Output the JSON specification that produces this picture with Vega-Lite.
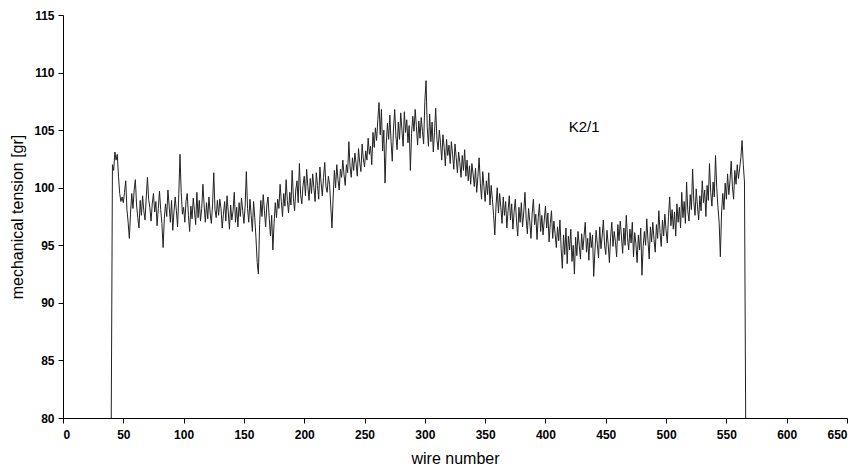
{
  "$schema": "https://vega.github.io/schema/vega-lite/v6.json",
  "autosize": "none",
  "width": 784,
  "height": 403,
  "padding": {"left": 63, "top": 15, "right": 20, "bottom": 52},
  "background": "white",
  "config": {
    "view": {"stroke": null},
    "font": "Liberation Sans",
    "axis": {
      "grid": false,
      "domainColor": "#000",
      "tickColor": "#000",
      "tickSize": 5,
      "labelColor": "#000",
      "labelFont": "Liberation Sans",
      "labelFontSize": 12,
      "labelFontWeight": "bold",
      "titleColor": "#000",
      "titleFont": "Liberation Sans",
      "titleFontSize": 16,
      "titleFontWeight": "normal"
    }
  },
  "datasets": {
    "tension": [
      {"w":40,"t":80},
      {"w":41,"t":102.0},{"w":42,"t":101.5},{"w":43,"t":103.1},{"w":44,"t":102.4},{"w":45,"t":102.9},{"w":46,"t":101.0},{"w":47,"t":99.5},{"w":48,"t":98.8},{"w":49,"t":99.2},{"w":50,"t":98.7},
      {"w":51,"t":99.6},{"w":52,"t":100.6},{"w":53,"t":98.1},{"w":54,"t":97.0},{"w":55,"t":95.6},{"w":56,"t":97.8},{"w":57,"t":99.5},{"w":58,"t":98.2},{"w":59,"t":99.8},{"w":60,"t":100.7},
      {"w":61,"t":98.5},{"w":62,"t":97.4},{"w":63,"t":96.5},{"w":64,"t":98.9},{"w":65,"t":97.6},{"w":66,"t":99.3},{"w":67,"t":98.0},{"w":68,"t":97.2},{"w":69,"t":99.1},{"w":70,"t":100.9},
      {"w":71,"t":99.0},{"w":72,"t":98.3},{"w":73,"t":97.1},{"w":74,"t":98.6},{"w":75,"t":99.5},{"w":76,"t":97.9},{"w":77,"t":98.8},{"w":78,"t":96.7},{"w":79,"t":98.2},{"w":80,"t":99.7},
      {"w":81,"t":98.1},{"w":82,"t":96.9},{"w":83,"t":94.8},{"w":84,"t":97.3},{"w":85,"t":98.6},{"w":86,"t":97.5},{"w":87,"t":99.8},{"w":88,"t":98.4},{"w":89,"t":97.0},{"w":90,"t":98.9},
      {"w":91,"t":96.3},{"w":92,"t":97.9},{"w":93,"t":99.2},{"w":94,"t":98.0},{"w":95,"t":96.6},{"w":96,"t":99.4},{"w":97,"t":102.9},{"w":98,"t":99.6},{"w":99,"t":97.7},{"w":100,"t":98.3},
      {"w":101,"t":97.0},{"w":102,"t":98.8},{"w":103,"t":99.5},{"w":104,"t":97.6},{"w":105,"t":96.2},{"w":106,"t":98.4},{"w":107,"t":97.3},{"w":108,"t":99.1},{"w":109,"t":98.0},{"w":110,"t":96.8},
      {"w":111,"t":99.6},{"w":112,"t":97.4},{"w":113,"t":98.9},{"w":114,"t":97.1},{"w":115,"t":98.2},{"w":116,"t":100.3},{"w":117,"t":98.5},{"w":118,"t":97.0},{"w":119,"t":98.7},{"w":120,"t":97.3},
      {"w":121,"t":99.2},{"w":122,"t":97.8},{"w":123,"t":96.9},{"w":124,"t":98.6},{"w":125,"t":101.3},{"w":126,"t":98.1},{"w":127,"t":97.4},{"w":128,"t":98.9},{"w":129,"t":97.6},{"w":130,"t":99.0},
      {"w":131,"t":98.2},{"w":132,"t":96.5},{"w":133,"t":97.7},{"w":134,"t":98.8},{"w":135,"t":97.1},{"w":136,"t":99.3},{"w":137,"t":97.9},{"w":138,"t":96.4},{"w":139,"t":98.5},{"w":140,"t":97.2},
      {"w":141,"t":98.0},{"w":142,"t":99.6},{"w":143,"t":97.0},{"w":144,"t":98.3},{"w":145,"t":96.6},{"w":146,"t":98.7},{"w":147,"t":97.5},{"w":148,"t":99.1},{"w":149,"t":98.0},{"w":150,"t":96.9},
      {"w":151,"t":98.4},{"w":152,"t":101.4},{"w":153,"t":98.2},{"w":154,"t":97.0},{"w":155,"t":99.0},{"w":156,"t":97.6},{"w":157,"t":96.2},{"w":158,"t":98.8},{"w":159,"t":97.4},{"w":160,"t":95.6},
      {"w":161,"t":93.5},{"w":162,"t":92.5},{"w":163,"t":96.8},{"w":164,"t":98.9},{"w":165,"t":97.5},{"w":166,"t":99.4},{"w":167,"t":98.0},{"w":168,"t":96.6},{"w":169,"t":98.5},{"w":170,"t":99.2},
      {"w":171,"t":97.3},{"w":172,"t":95.8},{"w":173,"t":97.6},{"w":174,"t":94.6},{"w":175,"t":96.9},{"w":176,"t":98.7},{"w":177,"t":97.4},{"w":178,"t":99.0},{"w":179,"t":98.2},{"w":180,"t":100.3},
      {"w":181,"t":98.8},{"w":182,"t":97.5},{"w":183,"t":99.5},{"w":184,"t":98.4},{"w":185,"t":100.7},{"w":186,"t":98.9},{"w":187,"t":97.8},{"w":188,"t":99.6},{"w":189,"t":98.5},{"w":190,"t":101.5},
      {"w":191,"t":99.1},{"w":192,"t":98.0},{"w":193,"t":99.8},{"w":194,"t":100.6},{"w":195,"t":98.7},{"w":196,"t":102.1},{"w":197,"t":99.4},{"w":198,"t":98.6},{"w":199,"t":100.2},{"w":200,"t":101.0},
      {"w":201,"t":99.3},{"w":202,"t":101.6},{"w":203,"t":100.1},{"w":204,"t":98.9},{"w":205,"t":100.8},{"w":206,"t":99.5},{"w":207,"t":101.2},{"w":208,"t":100.0},{"w":209,"t":98.8},{"w":210,"t":101.3},
      {"w":211,"t":100.2},{"w":212,"t":99.0},{"w":213,"t":101.8},{"w":214,"t":100.4},{"w":215,"t":99.3},{"w":216,"t":100.9},{"w":217,"t":102.2},{"w":218,"t":100.1},{"w":219,"t":99.6},{"w":220,"t":101.0},
      {"w":221,"t":100.3},{"w":222,"t":98.4},{"w":223,"t":96.5},{"w":224,"t":99.2},{"w":225,"t":101.5},{"w":226,"t":100.0},{"w":227,"t":102.0},{"w":228,"t":100.7},{"w":229,"t":99.8},{"w":230,"t":101.6},
      {"w":231,"t":100.9},{"w":232,"t":102.4},{"w":233,"t":101.1},{"w":234,"t":100.2},{"w":235,"t":102.0},{"w":236,"t":101.3},{"w":237,"t":104.0},{"w":238,"t":101.8},{"w":239,"t":100.9},{"w":240,"t":102.6},
      {"w":241,"t":101.5},{"w":242,"t":103.0},{"w":243,"t":102.1},{"w":244,"t":101.0},{"w":245,"t":103.4},{"w":246,"t":102.2},{"w":247,"t":101.4},{"w":248,"t":103.8},{"w":249,"t":102.5},{"w":250,"t":101.8},
      {"w":251,"t":103.2},{"w":252,"t":102.4},{"w":253,"t":104.3},{"w":254,"t":102.9},{"w":255,"t":103.6},{"w":256,"t":102.0},{"w":257,"t":104.8},{"w":258,"t":103.5},{"w":259,"t":105.2},{"w":260,"t":104.1},
      {"w":261,"t":105.9},{"w":262,"t":107.4},{"w":263,"t":104.6},{"w":264,"t":106.8},{"w":265,"t":103.2},{"w":266,"t":105.0},{"w":267,"t":100.4},{"w":268,"t":103.8},{"w":269,"t":105.6},{"w":270,"t":104.2},
      {"w":271,"t":106.3},{"w":272,"t":104.0},{"w":273,"t":102.3},{"w":274,"t":105.1},{"w":275,"t":106.8},{"w":276,"t":104.5},{"w":277,"t":103.3},{"w":278,"t":105.7},{"w":279,"t":104.2},{"w":280,"t":106.5},
      {"w":281,"t":105.0},{"w":282,"t":103.6},{"w":283,"t":106.6},{"w":284,"t":104.8},{"w":285,"t":105.9},{"w":286,"t":103.9},{"w":287,"t":105.4},{"w":288,"t":101.5},{"w":289,"t":104.7},{"w":290,"t":106.2},
      {"w":291,"t":104.9},{"w":292,"t":106.8},{"w":293,"t":105.3},{"w":294,"t":103.7},{"w":295,"t":105.8},{"w":296,"t":104.3},{"w":297,"t":106.1},{"w":298,"t":104.9},{"w":299,"t":103.8},{"w":300,"t":107.5},
      {"w":301,"t":109.3},{"w":302,"t":105.2},{"w":303,"t":103.6},{"w":304,"t":106.4},{"w":305,"t":104.0},{"w":306,"t":105.7},{"w":307,"t":103.1},{"w":308,"t":104.8},{"w":309,"t":106.9},{"w":310,"t":104.2},
      {"w":311,"t":103.3},{"w":312,"t":105.0},{"w":313,"t":103.9},{"w":314,"t":102.4},{"w":315,"t":104.6},{"w":316,"t":103.5},{"w":317,"t":101.9},{"w":318,"t":104.2},{"w":319,"t":102.8},{"w":320,"t":103.7},
      {"w":321,"t":102.1},{"w":322,"t":104.0},{"w":323,"t":102.9},{"w":324,"t":101.6},{"w":325,"t":103.8},{"w":326,"t":102.6},{"w":327,"t":101.3},{"w":328,"t":103.1},{"w":329,"t":102.2},{"w":330,"t":100.9},
      {"w":331,"t":102.8},{"w":332,"t":101.5},{"w":333,"t":103.3},{"w":334,"t":101.0},{"w":335,"t":102.4},{"w":336,"t":100.6},{"w":337,"t":101.9},{"w":338,"t":100.3},{"w":339,"t":102.1},{"w":340,"t":101.2},
      {"w":341,"t":100.1},{"w":342,"t":101.7},{"w":343,"t":99.6},{"w":344,"t":101.0},{"w":345,"t":102.6},{"w":346,"t":100.4},{"w":347,"t":99.0},{"w":348,"t":101.4},{"w":349,"t":100.1},{"w":350,"t":98.8},
      {"w":351,"t":100.6},{"w":352,"t":99.4},{"w":353,"t":101.3},{"w":354,"t":98.5},{"w":355,"t":100.2},{"w":356,"t":99.0},{"w":357,"t":97.6},{"w":358,"t":95.9},{"w":359,"t":98.4},{"w":360,"t":100.0},
      {"w":361,"t":97.8},{"w":362,"t":99.5},{"w":363,"t":98.3},{"w":364,"t":96.9},{"w":365,"t":99.2},{"w":366,"t":97.6},{"w":367,"t":98.8},{"w":368,"t":96.5},{"w":369,"t":98.0},{"w":370,"t":99.3},
      {"w":371,"t":97.2},{"w":372,"t":98.6},{"w":373,"t":96.4},{"w":374,"t":97.9},{"w":375,"t":99.0},{"w":376,"t":97.1},{"w":377,"t":95.8},{"w":378,"t":98.3},{"w":379,"t":97.0},{"w":380,"t":98.7},
      {"w":381,"t":96.6},{"w":382,"t":97.9},{"w":383,"t":99.6},{"w":384,"t":97.3},{"w":385,"t":96.0},{"w":386,"t":98.2},{"w":387,"t":97.1},{"w":388,"t":95.6},{"w":389,"t":97.8},{"w":390,"t":99.0},
      {"w":391,"t":96.8},{"w":392,"t":97.7},{"w":393,"t":95.5},{"w":394,"t":97.4},{"w":395,"t":98.6},{"w":396,"t":96.2},{"w":397,"t":97.6},{"w":398,"t":95.9},{"w":399,"t":97.2},{"w":400,"t":98.4},
      {"w":401,"t":96.5},{"w":402,"t":97.8},{"w":403,"t":95.3},{"w":404,"t":96.9},{"w":405,"t":98.0},{"w":406,"t":95.6},{"w":407,"t":97.1},{"w":408,"t":96.0},{"w":409,"t":94.8},{"w":410,"t":96.6},
      {"w":411,"t":95.4},{"w":412,"t":97.2},{"w":413,"t":94.7},{"w":414,"t":93.0},{"w":415,"t":95.9},{"w":416,"t":94.2},{"w":417,"t":96.5},{"w":418,"t":93.4},{"w":419,"t":95.8},{"w":420,"t":94.6},
      {"w":421,"t":96.4},{"w":422,"t":93.6},{"w":423,"t":95.0},{"w":424,"t":92.5},{"w":425,"t":95.7},{"w":426,"t":94.1},{"w":427,"t":96.2},{"w":428,"t":95.0},{"w":429,"t":93.8},{"w":430,"t":96.0},
      {"w":431,"t":94.6},{"w":432,"t":95.8},{"w":433,"t":97.0},{"w":434,"t":94.4},{"w":435,"t":95.6},{"w":436,"t":93.7},{"w":437,"t":96.1},{"w":438,"t":94.8},{"w":439,"t":95.9},{"w":440,"t":92.3},
      {"w":441,"t":94.5},{"w":442,"t":96.3},{"w":443,"t":95.1},{"w":444,"t":93.9},{"w":445,"t":96.6},{"w":446,"t":94.7},{"w":447,"t":95.8},{"w":448,"t":97.2},{"w":449,"t":95.0},{"w":450,"t":94.2},
      {"w":451,"t":96.3},{"w":452,"t":95.1},{"w":453,"t":93.5},{"w":454,"t":95.7},{"w":455,"t":97.0},{"w":456,"t":94.9},{"w":457,"t":96.2},{"w":458,"t":95.3},{"w":459,"t":94.0},{"w":460,"t":96.8},
      {"w":461,"t":95.4},{"w":462,"t":97.1},{"w":463,"t":95.8},{"w":464,"t":94.3},{"w":465,"t":96.5},{"w":466,"t":95.0},{"w":467,"t":97.6},{"w":468,"t":95.7},{"w":469,"t":94.6},{"w":470,"t":96.4},
      {"w":471,"t":95.2},{"w":472,"t":97.0},{"w":473,"t":94.0},{"w":474,"t":96.1},{"w":475,"t":95.1},{"w":476,"t":93.5},{"w":477,"t":95.9},{"w":478,"t":94.6},{"w":479,"t":96.5},{"w":480,"t":92.4},
      {"w":481,"t":94.9},{"w":482,"t":96.2},{"w":483,"t":95.0},{"w":484,"t":97.3},{"w":485,"t":95.4},{"w":486,"t":93.8},{"w":487,"t":96.6},{"w":488,"t":95.3},{"w":489,"t":97.0},{"w":490,"t":95.5},
      {"w":491,"t":94.4},{"w":492,"t":96.8},{"w":493,"t":95.6},{"w":494,"t":98.0},{"w":495,"t":96.1},{"w":496,"t":94.9},{"w":497,"t":97.2},{"w":498,"t":95.8},{"w":499,"t":97.7},{"w":500,"t":96.3},
      {"w":501,"t":95.2},{"w":502,"t":97.5},{"w":503,"t":99.2},{"w":504,"t":96.7},{"w":505,"t":98.1},{"w":506,"t":96.4},{"w":507,"t":97.9},{"w":508,"t":95.8},{"w":509,"t":98.6},{"w":510,"t":97.0},
      {"w":511,"t":98.3},{"w":512,"t":96.5},{"w":513,"t":99.6},{"w":514,"t":97.4},{"w":515,"t":98.8},{"w":516,"t":96.9},{"w":517,"t":100.5},{"w":518,"t":98.0},{"w":519,"t":97.1},{"w":520,"t":99.4},
      {"w":521,"t":98.1},{"w":522,"t":101.6},{"w":523,"t":98.8},{"w":524,"t":97.6},{"w":525,"t":99.9},{"w":526,"t":98.4},{"w":527,"t":97.2},{"w":528,"t":99.3},{"w":529,"t":98.0},{"w":530,"t":100.6},
      {"w":531,"t":98.7},{"w":532,"t":99.8},{"w":533,"t":97.5},{"w":534,"t":100.2},{"w":535,"t":98.9},{"w":536,"t":102.1},{"w":537,"t":99.6},{"w":538,"t":98.4},{"w":539,"t":100.5},{"w":540,"t":99.2},
      {"w":541,"t":102.8},{"w":542,"t":100.0},{"w":543,"t":98.3},{"w":544,"t":97.0},{"w":545,"t":94.0},{"w":546,"t":97.8},{"w":547,"t":99.5},{"w":548,"t":98.1},{"w":549,"t":100.4},{"w":550,"t":99.0},
      {"w":551,"t":101.2},{"w":552,"t":99.4},{"w":553,"t":100.6},{"w":554,"t":102.3},{"w":555,"t":100.1},{"w":556,"t":99.0},{"w":557,"t":101.5},{"w":558,"t":100.3},{"w":559,"t":102.0},{"w":560,"t":100.8},
      {"w":561,"t":101.7},{"w":562,"t":102.6},{"w":563,"t":104.1},{"w":564,"t":102.0},{"w":565,"t":100.5},
      {"w":566,"t":80}
    ]
  },
  "layer": [
    {
      "data": {"name": "tension"},
      "mark": {"type": "line", "color": "#222", "strokeWidth": 1, "clip": true},
      "encoding": {
        "x": {"field": "w", "type": "quantitative", "title": "wire number",
              "scale": {"domain": [0, 650], "nice": false, "zero": false},
              "axis": {"values": [0,50,100,150,200,250,300,350,400,450,500,550,600,650], "labelPadding": 6, "titlePadding": 10}},
        "y": {"field": "t", "type": "quantitative", "title": "mechanical tension [gr]",
              "scale": {"domain": [80, 115], "nice": false, "zero": false},
              "axis": {"values": [80,85,90,95,100,105,110,115], "labelPadding": 4, "titlePadding": 8}}
      }
    },
    {
      "data": {"values": [{"label": "K2/1"}]},
      "mark": {"type": "text", "fontSize": 15, "font": "Liberation Sans", "color": "#000", "align": "center", "baseline": "middle"},
      "encoding": {
        "x": {"datum": 432, "type": "quantitative"},
        "y": {"datum": 105.3, "type": "quantitative"},
        "text": {"field": "label"}
      }
    }
  ]
}
